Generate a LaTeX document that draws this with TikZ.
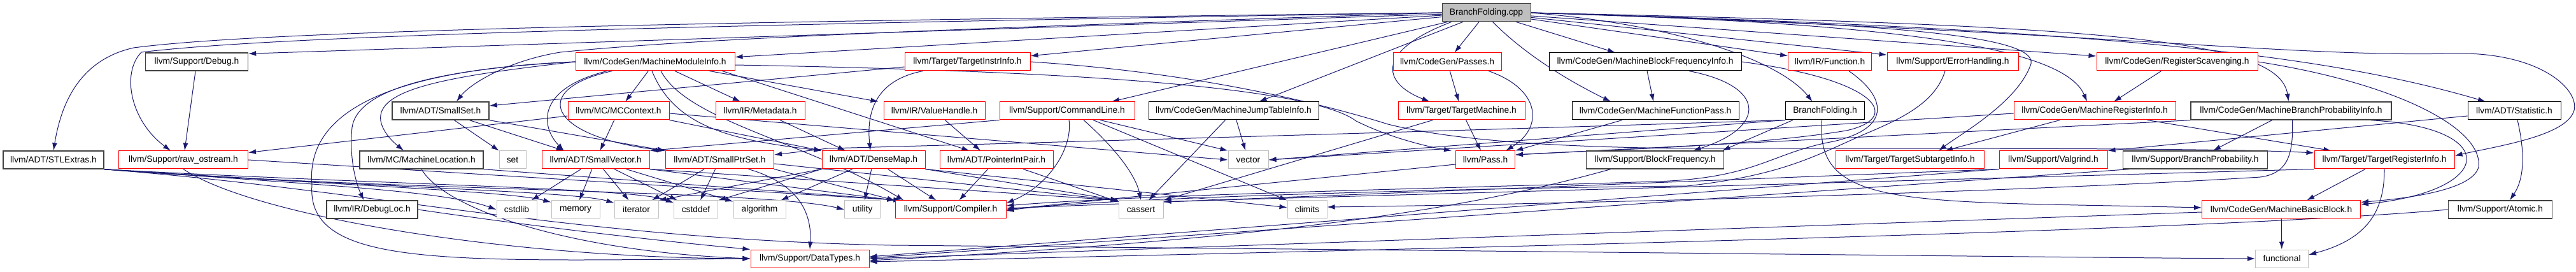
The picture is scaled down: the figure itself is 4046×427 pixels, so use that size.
\documentclass[tikz,border=0pt]{standalone}
\usepackage{fontspec}
\setmainfont{Liberation Sans}
\usetikzlibrary{arrows.meta}
\pgfdeclarelayer{bg}
\pgfsetlayers{bg,main}
\definecolor{edgec}{HTML}{191970}
\definecolor{grayb}{HTML}{BFBFBF}
\definecolor{darkb}{HTML}{404040}
\begin{document}
\begin{tikzpicture}[x=1pt,y=-1pt,
 box/.style={draw=black,fill=white,line width=1pt,minimum height=28pt,inner sep=0pt,font=\fontsize{13.8}{16}\selectfont},
 rbox/.style={box,draw=red},
 gbox/.style={box,draw=grayb},
 kbox/.style={box,draw=darkb,line width=1.4pt},
 e/.style={draw=edgec,line width=1pt,-{Latex[length=12pt,width=8pt]}},
]
\useasboundingbox (0,0) rectangle (4046,427);
% row 0
\node[box,fill=grayb,draw=darkb,minimum width=139pt] (cpp) at (2334.5,20) {BranchFolding.cpp};
% row 1
\node[kbox,minimum width=161pt] (dbg) at (309,97) {llvm/Support/Debug.h};
\node[rbox,minimum width=250pt] (mmi) at (1029,97) {llvm/CodeGen/MachineModuleInfo.h};
\node[rbox,minimum width=197pt] (tii) at (1519.5,97) {llvm/Target/TargetInstrInfo.h};
\node[rbox,minimum width=170pt] (passes) at (2273,97) {llvm/CodeGen/Passes.h};
\node[box,minimum width=302pt] (mbfi) at (2584,97) {llvm/CodeGen/MachineBlockFrequencyInfo.h};
\node[rbox,minimum width=131pt] (func) at (2874,97) {llvm/IR/Function.h};
\node[rbox,minimum width=206pt] (errh) at (3067,97) {llvm/Support/ErrorHandling.h};
\node[rbox,minimum width=253pt] (regscav) at (3419.5,97) {llvm/CodeGen/RegisterScavenging.h};
% row 2
\node[kbox,minimum width=152pt] (smallset) at (692,174) {llvm/ADT/SmallSet.h};
\node[rbox,minimum width=159pt] (mcctx) at (971.5,174) {llvm/MC/MCContext.h};
\node[rbox,minimum width=140pt] (metadata) at (1194,174) {llvm/IR/Metadata.h};
\node[rbox,minimum width=159pt] (vh) at (1467.5,174) {llvm/IR/ValueHandle.h};
\node[rbox,minimum width=212pt] (cl) at (1676,174) {llvm/Support/CommandLine.h};
\node[box,minimum width=267pt] (mjti) at (1937.5,174) {llvm/CodeGen/MachineJumpTableInfo.h};
\node[rbox,minimum width=199pt] (tm) at (2295.5,174) {llvm/Target/TargetMachine.h};
\node[box,minimum width=262pt] (mfp) at (2600,174) {llvm/CodeGen/MachineFunctionPass.h};
\node[box,minimum width=124pt] (bfh) at (2866.5,174) {BranchFolding.h};
\node[rbox,minimum width=254pt] (mri) at (3290,174) {llvm/CodeGen/MachineRegisterInfo.h};
\node[kbox,minimum width=315pt] (mbpi) at (3598.5,174) {llvm/CodeGen/MachineBranchProbabilityInfo.h};
\node[box,minimum width=146pt] (stat) at (3949,174) {llvm/ADT/Statistic.h};
% row 3
\node[kbox,minimum width=158pt] (stl) at (84,251) {llvm/ADT/STLExtras.h};
\node[rbox,minimum width=203pt] (rawos) at (288,251) {llvm/Support/raw\_ostream.h};
\node[kbox,minimum width=194pt] (mloc) at (662,251) {llvm/MC/MachineLocation.h};
\node[gbox,minimum width=42pt] (set) at (805,251) {set};
\node[rbox,minimum width=169pt] (svec) at (935.7,251) {llvm/ADT/SmallVector.h};
\node[rbox,minimum width=170pt] (sptr) at (1130.5,251) {llvm/ADT/SmallPtrSet.h};
\node[rbox,minimum width=162pt] (dmap) at (1372,251) {llvm/ADT/DenseMap.h};
\node[rbox,minimum width=178pt] (pip) at (1565,251) {llvm/ADT/PointerIntPair.h};
\node[gbox,minimum width=63pt] (vector) at (1960.5,251) {vector};
\node[rbox,minimum width=93pt] (pass) at (2333,251) {llvm/Pass.h};
\node[kbox,minimum width=216pt] (bfreq) at (2599.5,251) {llvm/Support/BlockFrequency.h};
\node[rbox,minimum width=233pt] (tsi) at (3000,251) {llvm/Target/TargetSubtargetInfo.h};
\node[rbox,minimum width=170pt] (valg) at (3225,251) {llvm/Support/Valgrind.h};
\node[kbox,minimum width=227pt] (bprob) at (3448,251) {llvm/Support/BranchProbability.h};
\node[rbox,minimum width=220pt] (tri) at (3745,251) {llvm/Target/TargetRegisterInfo.h};
% row 4
\node[kbox,minimum width=143pt] (dloc) at (584.5,329) {llvm/IR/DebugLoc.h};
\node[gbox,minimum width=63pt] (cstdlib) at (811.5,329) {cstdlib};
\node[gbox,minimum width=76pt] (memory) at (904,329) {memory};
\node[gbox,minimum width=69pt] (iter) at (999.5,329) {iterator};
\node[gbox,minimum width=69pt] (cstddef) at (1093,329) {cstddef};
\node[gbox,minimum width=82pt] (algo) at (1193,329) {algorithm};
\node[gbox,minimum width=56pt] (util) at (1354.7,329) {utility};
\node[rbox,minimum width=174pt] (comp) at (1493,329) {llvm/Support/Compiler.h};
\node[gbox,minimum width=70pt] (cassert) at (1792,329) {cassert};
\node[gbox,minimum width=62pt] (climits) at (2053,329) {climits};
\node[rbox,minimum width=249pt] (mbb) at (3583,329) {llvm/CodeGen/MachineBasicBlock.h};
\node[kbox,minimum width=163pt] (atomic) at (3927,329) {llvm/Support/Atomic.h};
% row 5
\node[rbox,minimum width=186pt] (dtypes) at (1272,406) {llvm/Support/DataTypes.h};
\node[gbox,minimum width=83pt] (functional) at (3584,406) {functional};

\begin{pgfonlayer}{bg}
\fill[white] (0,0) rectangle (4046,427);
% --- from BranchFolding.cpp
\draw[e] (cpp.west) .. controls (1000,35) and (400,50) .. (210,75) .. controls (120,95) and (95,170) .. (stl.north);
\draw[e] (cpp.west) .. controls (1000,40) and (420,58) .. (222,82) .. controls (190,115) and (205,190) .. ([xshift=-20pt]rawos.north);
\draw[e] (cpp) -- ([yshift=-2pt]dbg.north east);
\draw[e] (cpp) -- (mmi);
\draw[e] (cpp) -- (tii);
\draw[e] (cpp) -- (passes);
\draw[e] (cpp) -- (mbfi);
\draw[e] (cpp) -- (func);
\draw[e] (cpp) -- (errh);
\draw[e] (cpp) -- (regscav);
\draw[e] (cpp.west) .. controls (1500,45) and (1100,60) .. (880,82) .. controls (800,95) and (740,130) .. ([xshift=25pt]smallset.north);
\draw[e] (cpp) -- ([xshift=70pt]cl.north);
\draw[e] (cpp) -- ([xshift=40pt]mjti.north);
\draw[e] ([xshift=15pt]cpp.south west) .. controls (2160,80) and (2170,130) .. ([xshift=-50pt]tm.north);
\draw[e] ([xshift=10pt]cpp.south) .. controls (2400,90) and (2470,130) .. ([xshift=-70pt]mfp.north);
\draw[e] (cpp.east) .. controls (2650,40) and (2800,100) .. ([xshift=-20pt]bfh.north);
\draw[e] (cpp.east) .. controls (2950,35) and (3240,70) .. ([xshift=-12pt]mri.north);
\draw[e] (cpp.east) .. controls (2900,35) and (3200,50) .. (3190,100) .. controls (3170,160) and (3080,210) .. ([xshift=45pt]tsi.north);
\draw[e] (cpp.east) .. controls (3300,40) and (3580,60) .. ([xshift=-4pt]mbpi.north);
\draw[e] (cpp.east) .. controls (3300,45) and (3650,85) .. ([xshift=-45pt]stat.north);
\draw[e] (cpp.east) .. controls (3300,50) and (3600,90) .. (3850,84) .. controls (4000,80) and (4060,150) .. (4040,180) .. controls (4020,215) and (3920,230) .. ([yshift=-8pt]tri.north east);
% --- Debug, raw_ostream, STLExtras
\draw[e] (dbg) -- (rawos);
\draw[e] (rawos.east) -- ([xshift=10pt]comp.north west);
\draw[e] (rawos.south) .. controls (400,340) and (800,405) .. (dtypes.west);
\draw[e] (stl.south east) .. controls (600,300) and (1200,298) .. (util.west);
\draw[e] (stl.south east) .. controls (500,290) and (700,300) .. (cstdlib.west);
\draw[e] (stl.south east) .. controls (550,292) and (800,300) .. ([yshift=-3pt]memory.north west);
\draw[e] (stl.south east) .. controls (600,295) and (900,300) .. ([yshift=-4pt]iter.north west);
\draw[e] (stl.south east) .. controls (600,290) and (1000,295) .. ([yshift=-4pt]cstddef.north west);
\draw[e] (stl.south east) .. controls (600,300) and (900,375) .. (1400,385) .. controls (2500,395) and (3300,405) .. (functional.west);
% --- SmallSet, MachineLocation, DebugLoc
\draw[e] (smallset) -- (set);
\draw[e] (smallset) -- ([xshift=-50pt]svec.north);
\draw[e] (smallset.south east) -- (sptr.north west);
\draw[e] (mloc.south) .. controls (700,330) and (900,395) .. (dtypes.west);
\draw[e] (mloc.south east) -- ([xshift=10pt]comp.north west);
\draw[e] (dloc.east) .. controls (800,350) and (1000,375) .. (dtypes.north west);
% --- MachineModuleInfo
\draw[e] (mmi.west) .. controls (700,120) and (590,140) .. (598,190) .. controls (602,210) and (620,225) .. ([xshift=-28pt]mloc.north);
\draw[e] (mmi.west) .. controls (650,110) and (560,150) .. (553,200) .. controls (548,250) and (560,290) .. ([xshift=-13pt]dloc.north);
\draw[e] (mmi.west) .. controls (600,110) and (480,180) .. (490,290) .. controls (480,420) and (700,410) .. (dtypes.west);
\draw[e] (mmi) -- (mcctx);
\draw[e] ([xshift=50pt]mmi.south west) .. controls (840,140) and (850,200) .. ([xshift=-50pt]svec.north);
\draw[e] ([xshift=58pt]mmi.south west) .. controls (830,140) and (860,215) .. (sptr.north west);
\draw[e] (mmi) -- (metadata);
\draw[e] ([xshift=-40pt]mmi.south east) -- ([xshift=-8pt]vh.north west);
\draw[e] ([xshift=-20pt]mmi.south east) -- ([xshift=47pt]pip.north west);
\draw[e] ([yshift=-5pt]mmi.east) .. controls (1600,110) and (2050,130) .. (2130,190) .. controls (2180,215) and (2240,230) .. ([xshift=-6pt]pass.north west);
\draw[e] ([xshift=9pt]mmi.south) .. controls (1080,190) and (1260,220) .. ([xshift=14pt]comp.north west);
\draw[e] ([xshift=-5pt]mmi.south) .. controls (1060,200) and (1150,220) .. (dmap.north west);
% --- MCContext, Metadata
\draw[e] (mcctx) -- (svec);
\draw[e] (mcctx.south east) -- (dmap.north west);
\draw[e] ([yshift=-8pt]mcctx.west) -- ([yshift=-3pt]rawos.north east);
\draw[e] ([yshift=-4pt]mcctx.east) -- (vector.west);
\draw[e] (metadata) -- ([xshift=-44pt]dmap.north);
% --- SmallVector, SmallPtrSet, DenseMap
\draw[e] (svec) -- (cstdlib);
\draw[e] (svec) -- (memory);
\draw[e] (svec) -- (iter);
\draw[e] (svec) -- (cstddef);
\draw[e] (svec) -- (algo);
\draw[e] (svec.south east) -- (comp.north west);
\draw[e] (svec.south east) -- (cassert.north west);
\draw[e] (sptr) -- (iter);
\draw[e] (sptr) -- (cstddef);
\draw[e] ([xshift=45pt]sptr.south) .. controls (1260,290) and (1275,340) .. (dtypes.north);
\draw[e] (sptr.south east) -- (comp.north west);
\draw[e] ([yshift=-6pt]sptr.east) -- (cassert.north west);
\draw[e] (dmap) -- (algo);
\draw[e] (dmap.south west) -- (iter.north east);
\draw[e] (dmap.south west) -- (cstddef.north east);
\draw[e] (dmap) -- (util);
\draw[e] (dmap) -- (comp);
\draw[e] (dmap.south east) -- (cassert.north west);
\draw[e] (dmap.south east) -- (climits);
% --- ValueHandle, PointerIntPair, TargetInstrInfo
\draw[e] (vh) -- ([xshift=-25pt]pip.north);
\draw[e] (pip) -- (comp);
\draw[e] (pip) -- (cassert);
\draw[e] ([xshift=-70pt]tii.south) .. controls (1380,125) and (1360,170) .. ([xshift=-5pt]dmap.north);
\draw[e] ([yshift=-8pt]tii.west) -- ([yshift=8pt]smallset.east);
\draw[e] (tii.east) .. controls (1900,115) and (2100,170) .. (2180,195) .. controls (2300,225) and (2500,233) .. (2700,233) .. controls (3200,233) and (3500,233) .. ([yshift=11pt]tri.west);
% --- CommandLine, MachineJumpTableInfo
\draw[e] (cl.south west) -- (svec.north east);
\draw[e] ([xshift=3pt]cl.south) .. controls (1685,230) and (1650,290) .. ([yshift=10pt]comp.east);
\draw[e] ([xshift=26pt]cl.south) .. controls (1760,240) and (1785,280) .. (cassert.north);
\draw[e] ([xshift=52pt]cl.south) -- (vector.north west);
\draw[e] ([xshift=41pt]cl.south) -- (climits.north west);
\draw[e] (mjti) -- (vector);
\draw[e] ([xshift=-13pt]mjti.south) -- ([xshift=12pt]cassert.north);
% --- Passes, TargetMachine, MBFI, MachineFunctionPass
\draw[e] (passes) -- (tm);
\draw[e] ([xshift=65pt]passes.south) .. controls (2420,140) and (2425,200) .. ([xshift=32pt]pass.north);
\draw[e] (tm) -- (pass);
\draw[e] ([xshift=-45pt]tm.south) -- (cassert.north east);
\draw[e] (mbfi) -- (mfp);
\draw[e] ([xshift=69pt]mbfi.south) .. controls (2775,135) and (2775,200) .. ([xshift=60pt]bfreq.north);
\draw[e] (mbfi.east) .. controls (2950,125) and (2990,185) .. (2900,205) .. controls (2750,230) and (2500,236) .. ([yshift=8pt]pass.east);
\draw[e] ([xshift=-52pt]mfp.south) -- (pass.north east);
% --- BranchFolding.h
\draw[e] (bfh.south west) .. controls (2300,205) and (1600,225) .. (1300,233) -- ([yshift=8pt]sptr.east);
\draw[e] ([xshift=12pt]bfh.south west) -- ([xshift=-3pt]bfreq.north east);
\draw[e] ([xshift=-5pt]bfh.south) .. controls (2850,330) and (3000,315) .. ([yshift=3pt]mbb.west);
\draw[e] (bfh.south west) -- (vector.east);
% --- MRI, RegScav, MBPI, Statistic
\draw[e] (mri) -- ([xshift=55pt]tsi.north);
\draw[e] ([xshift=-45pt]mri.south east) -- ([xshift=27pt]tri.north west);
\draw[e] ([yshift=-4pt]mri.west) -- (vector.east);
\draw[e] ([xshift=-25pt]regscav.south) -- ([xshift=30pt]mri.north);
\draw[e] (regscav.east) .. controls (3760,130) and (3900,200) .. (3893,262) .. controls (3885,295) and (3800,310) .. ([yshift=-3pt]mbb.north east);
\draw[e] ([xshift=-30pt]mbpi.south) -- ([xshift=28pt]bprob.north);
\draw[e] ([xshift=125pt]mbpi.south) .. controls (3930,200) and (3920,300) .. ([yshift=8pt]mbb.east);
\draw[e] ([xshift=2pt]mbpi.south) .. controls (3602,240) and (3595,272) .. (3550,278) .. controls (3200,300) and (2500,320) .. ([yshift=4pt]climits.east);
\draw[e] (mbpi.south west) -- ([yshift=8pt]pass.east);
\draw[e] ([xshift=5pt]stat.south) .. controls (3966,240) and (3965,280) .. ([xshift=15pt]atomic.north);
\draw[e] ([yshift=-8pt]stat.west) -- (valg.north east);
% --- TRI, MBB, Atomic, leaves
\draw[e] ([xshift=-30pt]tri.south) -- ([xshift=40pt]mbb.north);
\draw[e] (tri.south) .. controls (3745,330) and (3720,375) .. ([yshift=6pt]functional.east);
\draw[e] (tri.south west) -- ([yshift=-2pt]cassert.north east);
\draw[e] (mbb) -- (functional);
\draw[e] ([yshift=-4pt]mbb.west) -- (dtypes.east);
\draw[e] (atomic.west) .. controls (3500,360) and (2500,385) .. ([yshift=-5pt]dtypes.east);
\draw[e] (valg.south west) -- ([yshift=2pt]comp.east);
\draw[e] (valg.south west) -- ([yshift=3pt]dtypes.east);
\draw[e] ([xshift=10pt]bprob.south west) -- ([yshift=1pt]dtypes.east);
\draw[e] ([xshift=-70pt]bfreq.south) .. controls (2300,330) and (2000,375) .. ([yshift=-3pt]dtypes.east);
\draw[e] ([yshift=-7pt]pass.west) -- (comp.east);
\draw[e] ([xshift=30pt]func.south) .. controls (2960,150) and (2975,200) .. (2880,222) .. controls (2780,240) and (2760,280) .. (2600,285) .. controls (2300,295) and (1800,305) .. ([yshift=6pt]comp.east);
\draw[e] ([xshift=-12pt]errh.south) .. controls (3040,160) and (2990,185) .. (2930,210) .. controls (2850,245) and (2800,275) .. (2650,292) .. controls (2300,295) and (1700,312) .. ([yshift=-2pt]comp.east);
\end{pgfonlayer}
\end{tikzpicture}
\end{document}
